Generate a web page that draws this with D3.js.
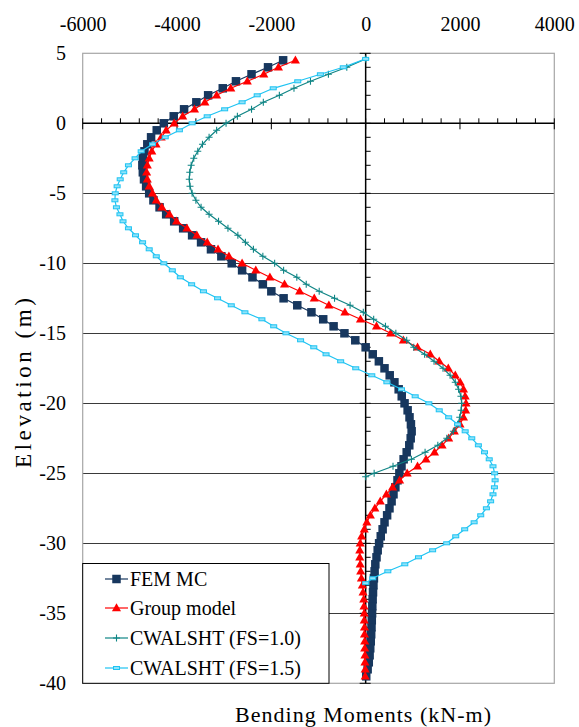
<!DOCTYPE html>
<html><head><meta charset="utf-8">
<script src="https://cdn.jsdelivr.net/npm/d3@7"></script>
<style>body{margin:0;background:#fff} svg{display:block}</style>
</head><body><svg id="c" width="579" height="727"></svg>
<script>
// ---------- DATA ----------
const xTickLabels = [-6000, -4000, -2000, 0, 2000, 4000];
const yTickLabels = [5, 0, -5, -10, -15, -20, -25, -30, -35, -40];
const seriesNames = ["FEM MC", "Group model", "CWALSHT (FS=1.0)", "CWALSHT (FS=1.5)"];

const elevFEM = [4.5,4,3.5,3,2.5,2,1.5,1,0.5,0,-0.5,-1,-1.5,-2,-2.5,-3,-3.5,-4,-4.5,-5,-5.5,-6,-6.5,-7,-7.5,-8,-8.5,-9,-9.5,-10,-10.5,-11,-11.5,-12,-12.5,-13,-13.5,-14,-14.5,-15,-15.5,-16,-16.5,-17,-17.5,-18,-18.5,-19,-19.5,-20,-20.5,-21,-21.5,-22,-22.5,-23,-23.5,-24,-24.5,-25,-25.5,-26,-26.5,-27,-27.5,-28,-28.5,-29,-29.5,-30,-30.5,-31,-31.5,-32,-32.5,-33,-33.5,-34,-34.5,-35,-35.5,-36,-36.5,-37,-37.5,-38,-38.5,-39,-39.5];
const momFEM = [-1750,-2070,-2420,-2750,-3030,-3340,-3590,-3850,-4070,-4280,-4430,-4550,-4630,-4690,-4725,-4735,-4725,-4700,-4655,-4590,-4500,-4370,-4230,-4060,-3870,-3680,-3490,-3280,-3060,-2840,-2620,-2400,-2180,-2000,-1740,-1450,-1150,-900,-680,-450,-220,0,150,280,400,510,610,700,765,825,890,930,960,975,955,925,870,805,760,715,675,630,590,550,505,455,400,360,320,285,255,230,205,190,175,165,156,148,141,136,130,124,117,108,97,84,66,42,12];

const elevGroup = [4.5,4,3.5,3,2.5,2,1.5,1,0.5,0,-0.5,-1,-1.5,-2,-2.5,-3,-3.5,-4,-4.5,-5,-5.5,-6,-6.5,-7,-7.5,-8,-8.5,-9,-9.5,-10,-10.5,-11,-11.5,-12,-12.5,-13,-13.5,-14,-14.5,-15,-15.5,-16,-16.5,-17,-17.5,-18,-18.5,-19,-19.5,-20,-20.5,-21,-21.5,-22,-22.5,-23,-23.5,-24,-24.5,-25,-25.5,-26,-26.5,-27,-27.5,-28,-28.5,-29,-29.5,-30,-30.5,-31,-31.5,-32,-32.5,-33,-33.5,-34,-34.5,-35,-35.5,-36,-36.5,-37,-37.5,-38,-38.5,-39,-39.5];
const momGroup = [-1490,-1850,-2160,-2510,-2860,-3160,-3410,-3630,-3880,-4060,-4230,-4335,-4445,-4535,-4590,-4630,-4645,-4630,-4590,-4520,-4440,-4320,-4160,-4010,-3790,-3580,-3360,-3130,-2900,-2620,-2330,-2030,-1720,-1400,-1090,-780,-440,-110,230,530,800,1100,1370,1560,1752,1900,2005,2075,2110,2127,2120,2075,2000,1880,1760,1620,1460,1280,1100,880,720,570,440,310,195,100,25,-30,-85,-115,-125,-125,-115,-105,-90,-70,-55,-40,-35,-30,-30,-25,-25,-20,-20,-15,-15,-10,-10];

const elevFS10 = [4.6,4,3.5,3,2.5,2,1.5,1,0.5,0,-0.5,-1,-1.5,-2,-2.5,-3,-3.5,-4,-4.5,-5,-5.5,-6,-6.5,-7,-7.5,-8,-8.5,-9,-9.5,-10,-10.5,-11,-11.5,-12,-12.5,-13,-13.5,-14,-14.5,-15,-15.5,-16,-16.5,-17,-17.5,-18,-18.5,-19,-19.5,-20,-20.5,-21,-21.5,-22,-22.5,-23,-23.5,-24,-24.5,-25,-25.25];
const momFS10 = [0,-400,-790,-1170,-1520,-1830,-2170,-2420,-2720,-2960,-3160,-3320,-3460,-3560,-3645,-3700,-3730,-3740,-3725,-3680,-3600,-3490,-3320,-3120,-2920,-2710,-2550,-2380,-2180,-1930,-1740,-1460,-1260,-985,-660,-330,-50,170,420,640,870,1020,1250,1450,1640,1790,1900,1970,2020,2036,2025,1995,1950,1860,1720,1530,1260,970,580,180,0];

const elevFS15 = [4.6,4,3.5,3,2.5,2,1.5,1,0.5,0,-0.5,-1,-1.5,-2,-2.5,-3,-3.5,-4,-4.5,-5,-5.5,-6,-6.5,-7,-7.5,-8,-8.5,-9,-9.5,-10,-10.5,-11,-11.5,-12,-12.5,-13,-13.5,-14,-14.5,-15,-15.5,-16,-16.5,-17,-17.5,-18,-18.5,-19,-19.5,-20,-20.5,-21,-21.5,-22,-22.5,-23,-23.5,-24,-24.5,-25,-25.5,-26,-26.5,-27,-27.5,-28,-28.5,-29,-29.5,-30,-30.5,-31,-31.5,-32,-32.5,-32.85];
const momFS15 = [0,-475,-960,-1440,-1960,-2300,-2620,-2990,-3360,-3680,-3950,-4250,-4520,-4760,-4890,-5030,-5130,-5205,-5270,-5310,-5317,-5285,-5210,-5145,-5030,-4880,-4730,-4590,-4440,-4280,-4100,-3930,-3690,-3440,-3140,-2850,-2560,-2200,-1950,-1690,-1380,-1100,-840,-530,-210,130,450,760,1050,1340,1560,1760,1950,2110,2250,2390,2520,2620,2700,2735,2745,2730,2700,2650,2560,2440,2300,2100,1910,1718,1420,1120,830,470,150,0];

// ---------- CHART ----------
const svg = d3.select("#c");
const FONT = '"Liberation Serif", "Times New Roman", serif';
const L = 82.7, R = 554.3, T = 53.3, B = 683.3;
const x = d3.scaleLinear().domain([-6000, 4000]).range([L, R]);
const y = d3.scaleLinear().domain([5, -40]).range([T, B]);

// gridlines
svg.append("g").selectAll("line")
  .data(d3.range(-5, -36, -5)).join("line")
  .attr("x1", L).attr("x2", R)
  .attr("y1", d => Math.round(y(d)) + 0.5).attr("y2", d => Math.round(y(d)) + 0.5)
  .attr("stroke", "#3a3a3a").attr("stroke-width", 1);

// plot border
svg.append("rect").attr("x", L).attr("y", T).attr("width", R - L).attr("height", B - T)
  .attr("fill", "none").attr("stroke", "#a6a6a6").attr("stroke-width", 1.2);

// x axis line at elevation 0
const y0 = y(0);
svg.append("line").attr("x1", L).attr("x2", R).attr("y1", y0).attr("y2", y0)
  .attr("stroke", "#000").attr("stroke-width", 1.5);
svg.append("g").selectAll("line").data(d3.range(-6000, 4001, 400)).join("line")
  .attr("x1", d => x(d)).attr("x2", d => x(d))
  .attr("y1", y0 - 5).attr("y2", d => (d % 2000 === 0) ? y0 + 6 : y0)
  .attr("stroke", "#000").attr("stroke-width", 1);

// y axis line at moment 0
const x0 = x(0);
svg.append("line").attr("x1", x0).attr("x2", x0).attr("y1", T).attr("y2", B)
  .attr("stroke", "#000").attr("stroke-width", 1.5);
svg.append("g").selectAll("line").data(d3.range(5, -41, -1)).join("line")
  .attr("x1", d => (d % 5 === 0) ? x0 - 6 : x0).attr("x2", x0 + 5)
  .attr("y1", d => y(d)).attr("y2", d => y(d))
  .attr("stroke", "#000").attr("stroke-width", 1);

// tick labels (top)
const topAxis = svg.append("g").attr("transform", "translate(0,31)")
  .call(d3.axisTop(x).tickValues(xTickLabels).tickSize(0).tickPadding(0).tickFormat(d => String(d)));
topAxis.select(".domain").remove();
topAxis.selectAll("text").style("font-family", FONT).style("font-size", "20px").attr("fill", "#000").attr("dy", 0);

// y tick labels (left)
const leftAxis = svg.append("g").attr("transform", "translate(66,0)")
  .call(d3.axisLeft(y).tickValues(yTickLabels).tickSize(0).tickPadding(0).tickFormat(d => String(d)));
leftAxis.select(".domain").remove();
leftAxis.selectAll("text").style("font-family", FONT).style("font-size", "20px").attr("fill", "#000");

// titles
svg.append("text").attr("transform", "translate(31,383) rotate(-90)")
  .attr("text-anchor", "middle").style("font-family", FONT).style("font-size", "23px")
  .attr("textLength", 170).attr("lengthAdjust", "spacing")
  .text("Elevation (m)");
svg.append("text").attr("x", 363).attr("y", 722).attr("text-anchor", "middle")
  .style("font-family", FONT).style("font-size", "22px")
  .attr("textLength", 256).attr("lengthAdjust", "spacing")
  .text("Bending Moments (kN-m)");

// series
const C_FEM = "#17375e", C_GRP = "#ff0000", C_10 = "#0f8585", C_15 = "#1ec3f2";
const mk = (e, m) => e.map((v, i) => ({ e: v, m: m[i] }));
const line = d3.line().x(d => x(d.m)).y(d => y(d.e));

const sFEM = mk(elevFEM, momFEM), sGRP = mk(elevGroup, momGroup),
      s10 = mk(elevFS10, momFS10), s15 = mk(elevFS15, momFS15);

const triPath = d3.symbol().type(d3.symbolTriangle).size(36)();
function drawMarker(g, type, color) {
  if (type === 0) g.append("rect").attr("x", -4.25).attr("y", -4.25).attr("width", 8.5).attr("height", 8.5).attr("fill", color);
  else if (type === 1) g.append("path").attr("d", triPath).attr("fill", color).attr("transform", "translate(0,0.5)");
  else if (type === 2) {
    g.append("path").attr("d", "M-3.5,0H3.5M0,-3.5V3.5").attr("stroke", color).attr("stroke-width", 1.1).attr("fill", "none");
  } else {
    g.append("rect").attr("x", -3).attr("y", -1.5).attr("width", 6).attr("height", 3)
      .attr("fill", "#8fe3fa").attr("stroke", color).attr("stroke-width", 1);
  }
}

const series = [
  { d: sFEM, c: C_FEM, t: 0 },
  { d: sGRP, c: C_GRP, t: 1 },
  { d: s10, c: C_10, t: 2 },
  { d: s15, c: C_15, t: 3 }
];
series.forEach(s => {
  const g = svg.append("g");
  g.append("path").datum(s.d).attr("d", line).attr("fill", "none").attr("stroke", s.c).attr("stroke-width", 1.2);
  g.selectAll("g").data(s.d).join("g")
    .attr("transform", d => `translate(${x(d.m)},${y(d.e)})`)
    .each(function () { drawMarker(d3.select(this), s.t, s.c); });
});

// legend
const lg = svg.append("g");
lg.append("rect").attr("x", L).attr("y", 563.5).attr("width", 329 - L).attr("height", B - 563.5)
  .attr("fill", "#fff").attr("stroke", "#000").attr("stroke-width", 1);
const legY = [579, 608, 638, 668];
seriesNames.forEach((name, i) => {
  const s = series[i];
  const gy = legY[i];
  lg.append("line").attr("x1", 105).attr("x2", 128).attr("y1", gy).attr("y2", gy)
    .attr("stroke", s.c).attr("stroke-width", 1.2);
  const mg = lg.append("g").attr("transform", `translate(116.5,${gy})`);
  drawMarker(mg, s.t, s.c);
  lg.append("text").attr("x", 130).attr("y", gy + 7)
    .style("font-family", FONT).style("font-size", "20px")
    .text(name);
});
</script></body></html>
